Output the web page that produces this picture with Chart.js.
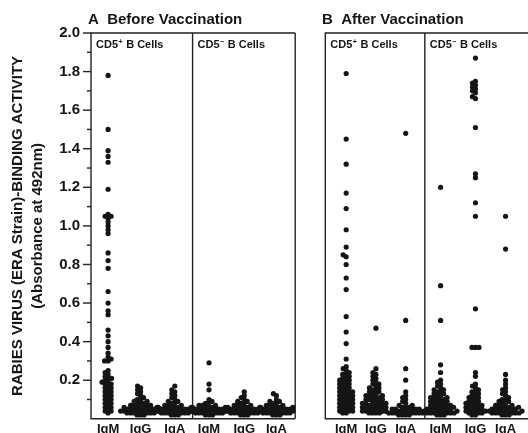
<!DOCTYPE html>
<html>
<head>
<meta charset="utf-8">
<script src="https://cdn.jsdelivr.net/npm/chart.js@4/dist/chart.umd.min.js"></script>
<style>
html, body { margin: 0; padding: 0; background: #fff; }
</style>
</head>
<body>
<canvas id="chart" width="528" height="433"></canvas>
<script>
var isotypes = ['IgM', 'IgG', 'IgA'];
var panelTitles = ['A  Before Vaccination', 'B  After Vaccination'];
var cellSigns = ['+', '\u2212'];
var yTitle = ['RABIES VIRUS (ERA Strain)-BINDING ACTIVITY', '(Absorbance at 492nm)'];

// ---- before vaccination, CD5+ B cells
var beforePosIgM = [1.78, 1.50, 1.39, 1.36, 1.33, 1.19, 1.06, 1.05, 1.05, 1.04, 1.02, 1.00, 0.98, 0.96,
  0.86, 0.82, 0.78, 0.66, 0.60, 0.56, 0.54, 0.46, 0.43, 0.40, 0.37, 0.34, 0.32, 0.31, 0.30, 0.30,
  0.25, 0.24, 0.23, 0.22, 0.21, 0.21, 0.20, 0.19, 0.19, 0.18, 0.18, 0.17, 0.16, 0.16, 0.15, 0.14,
  0.14, 0.13, 0.12, 0.12, 0.11, 0.10, 0.10, 0.09, 0.08, 0.08, 0.07, 0.06, 0.06, 0.05, 0.04, 0.04, 0.03];
var beforePosIgG = [0.17, 0.16, 0.15, 0.14, 0.13, 0.12, 0.11, 0.10, 0.10, 0.09, 0.09, 0.08, 0.08, 0.08,
  0.07, 0.07, 0.07, 0.07, 0.06, 0.06, 0.06, 0.06, 0.06, 0.05, 0.05, 0.05, 0.05, 0.05, 0.05,
  0.04, 0.04, 0.04, 0.04, 0.04, 0.04, 0.03, 0.03, 0.03, 0.03, 0.03, 0.03, 0.02, 0.02, 0.02];
var beforePosIgA = [0.17, 0.15, 0.14, 0.13, 0.12, 0.11, 0.10, 0.09, 0.09, 0.08, 0.08, 0.07, 0.07, 0.07,
  0.06, 0.06, 0.06, 0.06, 0.06, 0.05, 0.05, 0.05, 0.05, 0.05, 0.05, 0.05,
  0.04, 0.04, 0.04, 0.04, 0.04, 0.04, 0.04, 0.03, 0.03, 0.03, 0.03, 0.03, 0.03, 0.02, 0.02, 0.02];
// ---- before vaccination, CD5- B cells
var beforeNegIgM = [0.29, 0.18, 0.15, 0.10, 0.09, 0.08, 0.08, 0.07, 0.07, 0.07, 0.06, 0.06, 0.06, 0.06, 0.06,
  0.05, 0.05, 0.05, 0.05, 0.05, 0.05, 0.04, 0.04, 0.04, 0.04, 0.04, 0.04, 0.04,
  0.03, 0.03, 0.03, 0.03, 0.03, 0.03, 0.02, 0.02, 0.02];
var beforeNegIgG = [0.14, 0.12, 0.11, 0.10, 0.09, 0.09, 0.08, 0.08, 0.07, 0.07, 0.07, 0.06, 0.06, 0.06, 0.06, 0.06,
  0.05, 0.05, 0.05, 0.05, 0.05, 0.05, 0.04, 0.04, 0.04, 0.04, 0.04, 0.04, 0.04,
  0.03, 0.03, 0.03, 0.03, 0.03, 0.03, 0.02, 0.02, 0.02];
var beforeNegIgA = [0.13, 0.12, 0.10, 0.09, 0.09, 0.08, 0.08, 0.07, 0.07, 0.07, 0.06, 0.06, 0.06, 0.06, 0.06,
  0.05, 0.05, 0.05, 0.05, 0.05, 0.05, 0.04, 0.04, 0.04, 0.04, 0.04, 0.04,
  0.03, 0.03, 0.03, 0.03, 0.03, 0.03, 0.02, 0.02, 0.02];
// ---- after vaccination, CD5+ B cells
var afterPosIgM = [1.79, 1.45, 1.32, 1.17, 1.09, 0.98, 0.89, 0.85, 0.84, 0.80, 0.73, 0.67, 0.53, 0.45, 0.39,
  0.31, 0.27, 0.26, 0.25, 0.24, 0.23, 0.23, 0.22, 0.21, 0.21, 0.20, 0.20, 0.19, 0.19, 0.18, 0.18,
  0.17, 0.17, 0.16, 0.16, 0.15, 0.15, 0.14, 0.14, 0.14, 0.13, 0.13, 0.12, 0.12, 0.12, 0.11, 0.11,
  0.10, 0.10, 0.10, 0.09, 0.09, 0.08, 0.08, 0.08, 0.07, 0.07, 0.06, 0.06, 0.06, 0.05, 0.05,
  0.04, 0.04, 0.04, 0.03, 0.03];
var afterPosIgG = [0.47, 0.26, 0.24, 0.23, 0.22, 0.21, 0.20, 0.19, 0.18, 0.18, 0.17, 0.16, 0.16, 0.15, 0.15,
  0.14, 0.14, 0.13, 0.13, 0.12, 0.12, 0.12, 0.11, 0.11, 0.11, 0.10, 0.10, 0.10, 0.09, 0.09, 0.09,
  0.08, 0.08, 0.08, 0.08, 0.07, 0.07, 0.07, 0.07, 0.06, 0.06, 0.06, 0.06, 0.05, 0.05, 0.05, 0.05,
  0.04, 0.04, 0.04, 0.04, 0.03, 0.03, 0.03, 0.03];
var afterPosIgA = [1.48, 0.51, 0.26, 0.20, 0.14, 0.12, 0.11, 0.10, 0.09, 0.08, 0.07, 0.07, 0.06, 0.06, 0.06,
  0.05, 0.05, 0.05, 0.05, 0.05, 0.04, 0.04, 0.04, 0.04, 0.04, 0.04, 0.04,
  0.03, 0.03, 0.03, 0.03, 0.03, 0.03, 0.03, 0.02, 0.02, 0.02, 0.02];
// ---- after vaccination, CD5- B cells
var afterNegIgM = [1.20, 0.69, 0.51, 0.28, 0.24, 0.20, 0.19, 0.18, 0.17, 0.16, 0.15, 0.15, 0.14, 0.14,
  0.13, 0.13, 0.12, 0.12, 0.11, 0.11, 0.11, 0.10, 0.10, 0.10, 0.09, 0.09, 0.09, 0.08, 0.08, 0.08,
  0.07, 0.07, 0.07, 0.07, 0.06, 0.06, 0.06, 0.06, 0.05, 0.05, 0.05, 0.05, 0.05,
  0.04, 0.04, 0.04, 0.04, 0.04, 0.04, 0.03, 0.03, 0.03, 0.03, 0.03, 0.03, 0.02, 0.02, 0.02];
var afterNegIgG = [1.87, 1.75, 1.74, 1.73, 1.72, 1.71, 1.70, 1.69, 1.67, 1.66, 1.51, 1.27, 1.25, 1.12, 1.05,
  0.57, 0.37, 0.37, 0.37, 0.24, 0.22, 0.18, 0.17, 0.16, 0.15, 0.14, 0.14, 0.13, 0.12, 0.12, 0.11, 0.11,
  0.10, 0.10, 0.09, 0.09, 0.08, 0.08, 0.08, 0.07, 0.07, 0.07, 0.06, 0.06, 0.06, 0.05, 0.05, 0.05,
  0.04, 0.04, 0.04, 0.03, 0.03, 0.03, 0.02, 0.02];
var afterNegIgA = [1.05, 0.88, 0.23, 0.20, 0.18, 0.16, 0.15, 0.14, 0.13, 0.12, 0.11, 0.10, 0.10, 0.09, 0.09,
  0.08, 0.08, 0.07, 0.07, 0.07, 0.06, 0.06, 0.06, 0.06, 0.05, 0.05, 0.05, 0.05, 0.05,
  0.04, 0.04, 0.04, 0.04, 0.04, 0.04, 0.03, 0.03, 0.03, 0.03, 0.03, 0.03, 0.02, 0.02, 0.02];

var groups = [
  [beforePosIgM, beforePosIgG, beforePosIgA],
  [beforeNegIgM, beforeNegIgG, beforeNegIgA],
  [afterPosIgM, afterPosIgG, afterPosIgA],
  [afterNegIgM, afterNegIgG, afterNegIgA]
];

// layout (x units along the shared linear axis)
var catX = [[0.5, 1.45, 2.45], [3.45, 4.48, 5.42], [7.46, 8.33, 9.2], [10.22, 11.24, 12.12]];
var boxes = [[0, 2.97, 5.97], [6.85, 9.76, null]];
var FONT = 'Liberation Sans, Arial, Helvetica, sans-serif';
var INK = '#151515';
var GAP = 3.5;

var datasets = [];
groups.forEach(function (g, s) {
  g.forEach(function (vals, i) {
    datasets.push({
      data: vals.map(function (v) { return {x: catX[s][i], y: v}; }),
      raw: vals, cx: catX[s][i],
      backgroundColor: INK, borderWidth: 0, pointRadius: 2.6, pointHoverRadius: 2.6
    });
  });
});

// spread equal values sideways so the dots sit in a swarm, as in the figure
function swarm(values, cx, xs, ys) {
  var placed = [];
  return values.slice().sort(function (a, b) { return a - b; }).map(function (v) {
    var py = ys.getPixelForValue(v), off = 0;
    for (var k = 0; k < 400; k++) {
      off = (k % 2 ? -1 : 1) * Math.ceil(k / 2) * 0.5;
      var hit = placed.some(function (p) {
        var dx = p[0] - off, dy = p[1] - py;
        return dx * dx + dy * dy < GAP * GAP;
      });
      if (!hit) break;
    }
    placed.push([off, py]);
    return {x: xs.getValueForPixel(xs.getPixelForValue(cx) + off), y: v};
  });
}

var framePlugin = {
  id: 'frames',
  beforeDatasetsDraw: function (chart) {
    var ctx = chart.ctx, xs = chart.scales.x, ys = chart.scales.y;
    var top = ys.getPixelForValue(2), bot = ys.getPixelForValue(0);
    ctx.save();
    ctx.strokeStyle = '#222';
    ctx.lineWidth = 1.4;
    boxes.forEach(function (b) {
      var l = xs.getPixelForValue(b[0]);
      var m = xs.getPixelForValue(b[1]);
      var r = b[2] === null ? chart.width + 2 : xs.getPixelForValue(b[2]);
      ctx.beginPath();
      ctx.moveTo(r, top); ctx.lineTo(l, top); ctx.lineTo(l, bot); ctx.lineTo(r, bot);
      if (b[2] !== null) { ctx.moveTo(r, top); ctx.lineTo(r, bot); }
      ctx.moveTo(m, top); ctx.lineTo(m, bot);
      ctx.stroke();
    });
    // y ticks: long at labelled values, short in between
    var ax = xs.getPixelForValue(boxes[0][0]);
    ys.ticks.forEach(function (t) {
      if (t.value <= 0) return;
      var py = ys.getPixelForValue(t.value);
      var len = Math.round(t.value * 10) % 2 === 0 ? 8 : 4;
      ctx.beginPath();
      ctx.moveTo(ax - len, py); ctx.lineTo(ax, py);
      ctx.stroke();
    });
    ctx.restore();
  },
  afterDraw: function (chart) {
    var ctx = chart.ctx, xs = chart.scales.x;
    ctx.save();
    ctx.fillStyle = INK;
    ctx.textBaseline = 'alphabetic';
    ctx.font = 'bold 15px ' + FONT;
    ctx.fillText(panelTitles[0], 88, 24);
    ctx.fillText(panelTitles[1], 322, 24);
    var starts = [boxes[0][0], boxes[0][1], boxes[1][0], boxes[1][1]];
    starts.forEach(function (u, s) {
      var x = xs.getPixelForValue(u) + 5;
      ctx.font = 'bold 11px ' + FONT;
      ctx.fillText('CD5', x, 48);
      x += ctx.measureText('CD5').width + 0.5;
      ctx.font = 'bold 7px ' + FONT;
      ctx.fillText(cellSigns[s % 2], x, 44);
      x += ctx.measureText(cellSigns[s % 2]).width + 0.5;
      ctx.font = 'bold 11px ' + FONT;
      ctx.fillText(' B Cells', x, 48);
    });
    ctx.restore();
  }
};

var tickX = [].concat.apply([], catX);

var chart = new Chart(document.getElementById('chart'), {
  type: 'scatter',
  data: {datasets: datasets},
  options: {
    responsive: false,
    animation: false,
    events: [],
    layout: {padding: {left: 0, right: 1, top: 33, bottom: -6.6}},
    plugins: {legend: {display: false}, tooltip: {enabled: false}},
    scales: {
      x: {
        type: 'linear', min: 0, max: 12.7,
        grid: {display: false, drawTicks: false, tickLength: 0}, border: {display: false},
        afterBuildTicks: function (s) { s.ticks = tickX.map(function (v) { return {value: v}; }); },
        ticks: {
          autoSkip: false, maxRotation: 0, padding: 2.6, color: INK,
          font: {family: FONT, size: 13, weight: 'bold'},
          callback: function (v, i) { return isotypes[i % 3]; }
        }
      },
      y: {
        min: 0, max: 2,
        grid: {display: true, drawOnChartArea: false, tickLength: 11, tickColor: 'rgba(0,0,0,0)'},
        border: {display: false},
        afterFit: function (s) { s.width = 91; },
        ticks: {
          stepSize: 0.1, padding: 0, color: INK, autoSkip: false,
          font: {family: FONT, size: 15, weight: 'bold'},
          callback: function (v) {
            var t = Math.round(v * 10);
            return (t > 0 && t % 2 === 0) ? (t / 10).toFixed(1) : '';
          }
        },
        title: {
          display: true, text: yTitle, color: INK,
          font: {family: FONT, size: 15, weight: 'bold', lineHeight: 1.33},
          padding: {top: 8, bottom: 0}
        }
      }
    }
  },
  plugins: [framePlugin]
});

chart.data.datasets.forEach(function (d) {
  d.data = swarm(d.raw, d.cx, chart.scales.x, chart.scales.y);
});
chart.update('none');
</script>
</body>
</html>
